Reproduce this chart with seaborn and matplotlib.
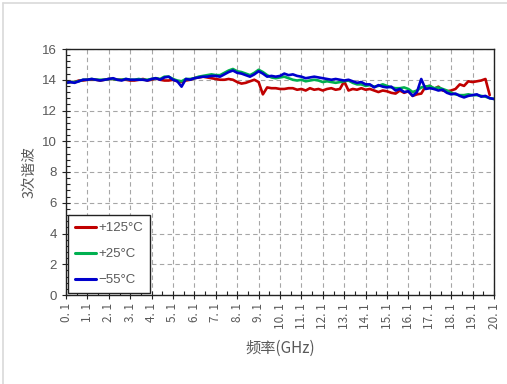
import numpy as np
import pandas as pd
import matplotlib
matplotlib.use("Agg")
import matplotlib.pyplot as plt
from matplotlib.lines import Line2D
from matplotlib.ticker import MultipleLocator
import seaborn as sns

# Frequency sweep (GHz), 0.2 GHz step
freq_ghz = np.round(np.linspace(0.1, 20.1, 101), 1)

# Third-harmonic level at three temperatures
h3_minus55 = [
    13.8, 13.85, 13.8, 13.9, 14.0,
    14.0, 14.05, 14.0, 13.95, 14.0, 14.05,
    14.1, 14.0, 13.95, 14.05, 14.0,
    14.0, 14.0, 14.0, 13.95, 14.05,
    14.1, 14.0, 14.15, 14.2, 14.0,
    13.9, 13.55, 14.05, 14.0, 14.1,
    14.15, 14.2, 14.2, 14.25, 14.25,
    14.2, 14.35, 14.5, 14.6, 14.45,
    14.4, 14.3, 14.2, 14.35, 14.55,
    14.4, 14.2, 14.25, 14.2, 14.25,
    14.4, 14.3, 14.35, 14.25, 14.2,
    14.1, 14.15, 14.2, 14.15, 14.1,
    14.05, 14.0, 14.05, 14.0, 13.95,
    14.0, 13.9, 13.8, 13.85, 13.7,
    13.7, 13.5, 13.65, 13.55, 13.5,
    13.55, 13.3, 13.4, 13.2, 13.25,
    12.95, 13.2, 14.05, 13.4, 13.45,
    13.4, 13.3, 13.35, 13.15, 13.05,
    13.1, 12.95, 12.85, 12.95, 13.0,
    13.05, 12.9, 12.95, 12.8, 12.75,
]
h3_plus25 = [
    13.8, 13.85, 13.85, 13.9, 14.0,
    14.0, 14.05, 14.0, 14.0, 14.0, 14.05,
    14.05, 14.0, 14.0, 14.05, 14.0,
    14.0, 14.05, 14.0, 14.0, 14.05,
    14.1, 14.05, 14.2, 14.2, 14.05,
    13.95, 13.9, 14.05, 14.05, 14.1,
    14.2, 14.25, 14.3, 14.35, 14.3,
    14.3, 14.45, 14.6, 14.7, 14.55,
    14.5, 14.4, 14.3, 14.45, 14.65,
    14.5, 14.3, 14.15, 14.1, 14.15,
    14.2, 14.1, 14.0, 13.95, 14.0,
    13.9, 13.95, 14.0, 13.95, 13.85,
    13.9, 13.85, 13.8, 13.85, 13.9,
    13.95, 13.8, 13.7, 13.7, 13.6,
    13.65, 13.55, 13.6, 13.7, 13.6,
    13.5, 13.45, 13.45, 13.5, 13.4,
    13.2, 13.3, 13.5, 13.55, 13.6,
    13.45, 13.5, 13.4, 13.3, 13.15,
    13.05, 13.0, 13.0, 13.05, 13.0,
    13.0, 12.95, 12.9, 12.8, 12.75,
]
h3_plus125 = [
    13.8, 13.85, 13.85, 13.95, 13.95,
    14.0, 14.0, 14.0, 13.95, 14.0, 14.05,
    14.05, 14.0, 14.0, 14.0, 13.95,
    13.95, 14.0, 14.05, 13.95, 14.0,
    14.1, 14.0, 13.95, 13.95, 14.0,
    13.9, 13.85, 13.95, 14.0, 14.1,
    14.15, 14.2, 14.15, 14.1, 14.05,
    14.0, 14.0, 14.05, 14.0, 13.85,
    13.75, 13.8, 13.9, 14.0, 13.85,
    13.05, 13.5, 13.45, 13.45, 13.4,
    13.4, 13.45, 13.45, 13.35, 13.4,
    13.3, 13.45, 13.35, 13.4, 13.3,
    13.4, 13.45, 13.35, 13.4, 13.9,
    13.3, 13.4, 13.35, 13.45, 13.35,
    13.4, 13.3, 13.2, 13.3, 13.25,
    13.15, 13.1, 13.3, 13.15, 13.25,
    12.95, 13.05, 13.1, 13.55, 13.6,
    13.4, 13.55, 13.3, 13.25, 13.3,
    13.4, 13.7, 13.6, 13.9, 13.85,
    13.9, 13.95, 14.05, 13.0, np.nan,
]

series_labels = ["+125°C", "+25°C", "\u221255°C"]
series_colors = ["#C00000", "#00B050", "#0000CC"]
x_tick_values = [round(0.1 + k, 1) for k in range(21)]

df = pd.concat(
    [
        pd.DataFrame({"freq": freq_ghz, "h3": vals, "temp": lab})
        for vals, lab in zip([h3_plus125, h3_plus25, h3_minus55], series_labels)
    ],
    ignore_index=True,
)

sns.set_theme(style="white")
plt.rcParams["font.family"] = ["Liberation Sans", "Noto Sans CJK SC", "DejaVu Sans"]
plt.rcParams["axes.unicode_minus"] = False

fig = plt.figure(figsize=(5.07, 3.84), dpi=100)
ax = fig.add_axes([66 / 507, 1 - 295 / 384, (494 - 66) / 507, (295 - 49) / 384])

sns.lineplot(
    data=df, x="freq", y="h3", hue="temp", hue_order=series_labels,
    palette=dict(zip(series_labels, series_colors)),
    linewidth=1.9, ax=ax, legend=False, estimator=None, sort=False,
)

ax.set_xlim(0.1, 20.1)
ax.set_ylim(0, 16)
ax.yaxis.set_major_locator(MultipleLocator(2))
ax.yaxis.set_minor_locator(MultipleLocator(0.4))
ax.set_xticks(x_tick_values)
ax.set_xticks([v + 0.5 for v in x_tick_values[:-1]], minor=True)
ax.set_xticklabels([f"{v:.1f}".replace(".", ". ") for v in x_tick_values],
                   rotation=90, fontsize=8.5, color="#595959",
                   family=["Noto Sans CJK SC", "DejaVu Sans"])
ax.tick_params(axis="y", labelsize=9.5, labelcolor="#595959")
ax.tick_params(which="major", direction="inout", length=6, width=0.8, color="#222222")
ax.tick_params(which="minor", direction="in", length=3, width=0.8, color="#222222")
ax.tick_params(axis="x", which="both", bottom=True, pad=3)
ax.tick_params(axis="y", which="both", left=True)

ax.grid(True, which="major", linestyle=(0, (4, 3)), color="#a6a6a6", linewidth=0.8)
for sp in ax.spines.values():
    sp.set_color("#222222")
    sp.set_linewidth(1.0)

ax.set_xlabel("频率(GHz)", fontsize=11, color="#595959", labelpad=8,
              family=["Noto Sans CJK SC", "DejaVu Sans"])
ax.set_ylabel("3次谐波", fontsize=10.5, color="#595959", labelpad=4,
              family=["Noto Sans CJK SC", "DejaVu Sans"])

handles = [Line2D([0], [0], color=c, lw=2.2) for c in series_colors]
leg = ax.legend(handles, series_labels, loc="lower left", bbox_to_anchor=(0.0, 0.0),
                borderaxespad=0.15, frameon=True, fancybox=False, fontsize=9.5,
                handlelength=1.6, handletextpad=0.2, labelspacing=1.05,
                borderpad=0.5, labelcolor="#595959")
leg.get_frame().set_edgecolor("#222222")
leg.get_frame().set_linewidth(1.0)
leg.get_frame().set_alpha(1.0)

# light outer frame of the chart area
fig.add_artist(Line2D([3 / 507, 1.0], [1 - 3 / 384, 1 - 3 / 384],
                      transform=fig.transFigure, color="#d9d9d9", lw=1.2))
fig.add_artist(Line2D([3 / 507, 3 / 507], [0.0, 1 - 3 / 384],
                      transform=fig.transFigure, color="#d9d9d9", lw=1.2))

fig.savefig("out.png", dpi=100)
